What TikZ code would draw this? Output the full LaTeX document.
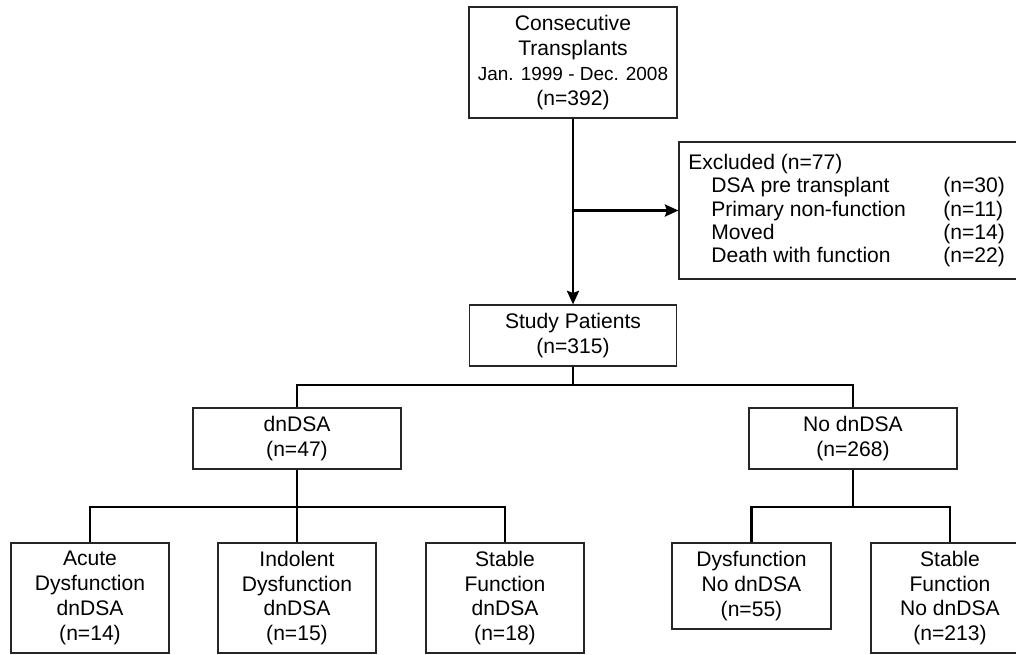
\documentclass[tikz,border=0pt]{standalone}
\usepackage{fontspec}
\setmainfont{Liberation Sans}
\usetikzlibrary{arrows.meta}

\begin{document}
\begin{tikzpicture}[x=0.02cm,y=-0.02cm,line cap=butt]
	\tikzstyle{box}=[draw=black!85,line width=0.7pt,rectangle,align=center,inner sep=0pt,font=\fontsize{12}{14.2}\selectfont];
	\tikzstyle{box1}=[box,minimum width=4.16cm,minimum height=1.22cm];
	\tikzstyle{box2}=[box,minimum width=3.16cm,minimum height=2.2cm];
	\tikzstyle{conn}=[line width=1.5pt,draw=black];
	\tikzstyle{arr}=[conn,-{Stealth[length=0.27cm,width=0.24cm,inset=0.04cm]}];

	\useasboundingbox (0,0) rectangle (1016,654);

	\node[box,minimum width=4.16cm,minimum height=2.22cm] (cons) at (573,62.5)
		{Consecutive\\Transplants\\{\fontsize{10.8}{14.2}\selectfont Jan. 1999 - Dec. 2008}\\(n=392)};
	\node[box,minimum width=7.02cm,minimum height=2.74cm] (excl) at (854.5,210.5) {};
	\node[anchor=north west,inner sep=0pt,align=left,font=\fontsize{12}{13.2}\selectfont] (excltext) at (688,154)
		{Excluded (n=77)\\
		\hspace*{0.46cm}\makebox[4.64cm][l]{DSA pre transplant}(n=30)\\
		\hspace*{0.46cm}\makebox[4.64cm][l]{Primary non-function}(n=11)\\
		\hspace*{0.46cm}\makebox[4.64cm][l]{Moved}(n=14)\\
		\hspace*{0.46cm}\makebox[4.64cm][l]{Death with function}(n=22)};
	\node[box1,minimum width=4.14cm] (study) at (573,335.5) {Study Patients\\(n=315)};
	\node[box1] (dnd)   at (297,438.5) {dnDSA\\(n=47)};
	\node[box1] (nodnd) at (853,438.5) {No dnDSA\\(n=268)};
	\node[box2] (acute) at (90,598)    {Acute\\Dysfunction\\dnDSA\\(n=14)};
	\node[box2] (indol) at (297,598)   {Indolent\\Dysfunction\\dnDSA\\(n=15)};
	\node[box2] (stabd) at (505,598)   {Stable\\Function\\dnDSA\\(n=18)};
	\node[box2,minimum width=3.18cm,minimum height=1.72cm] (dysf) at (751.5,586) {Dysfunction\\No dnDSA\\(n=55)};
	\node[box2] (stabn) at (950,598)   {Stable\\Function\\No dnDSA\\(n=213)};

	\coordinate (busA) at (0,385);
	\coordinate (busB) at (0,507);

	\draw[arr] (cons.south) -- (study.north);
	\draw[arr] (cons.south |- excl.west) -- (excl.west);
	\draw[conn] (study.south) -- (study.south |- busA);
	\draw[conn] (dnd.north) -- (dnd.north |- busA) -- (nodnd.north |- busA) -- (nodnd.north);
	\draw[conn] (dnd.south) -- (indol.north);
	\draw[conn] (acute.north) -- (acute.north |- busB) -- (stabd.north |- busB) -- (stabd.north);
	\draw[conn] (nodnd.south) -- (nodnd.south |- busB);
	\draw[conn] (dysf.north) -- (dysf.north |- busB) -- (stabn.north |- busB) -- (stabn.north);
\end{tikzpicture}
\end{document}
